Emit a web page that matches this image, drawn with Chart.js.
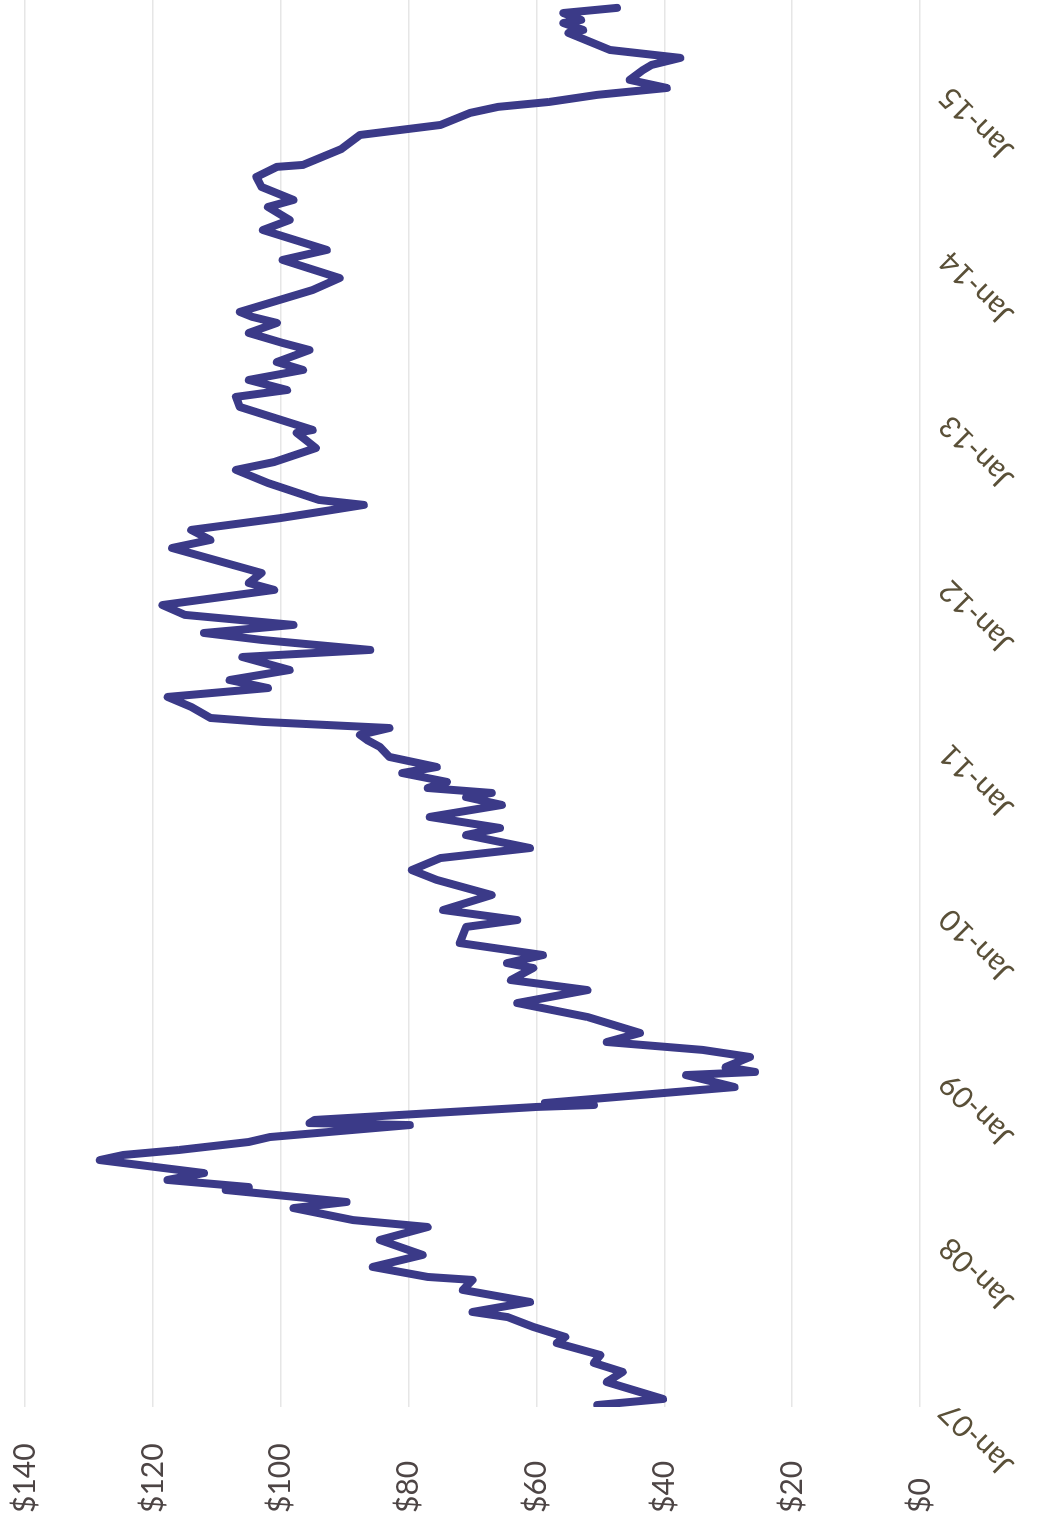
<!DOCTYPE html>
<html>
<head>
<meta charset="utf-8">
<script src="https://cdn.jsdelivr.net/npm/chart.js@4.4.0/dist/chart.umd.min.js"></script>
<style>
  html, body { margin: 0; padding: 0; background: #fff; overflow: hidden; }
  #page { width: 1049px; height: 1527px; position: relative; overflow: hidden; background: #fff; }
  /* the scanned chart is lying on its side: draw it flat, then turn it 90deg left */
  #wrap { position: absolute; left: 0; top: 0; width: 1527px; height: 1049px;
          transform-origin: 0 0; transform: translate(0, 1527px) rotate(-90deg); }
</style>
</head>
<body>
<div id="page"><div id="wrap"><canvas id="chart" width="1527" height="1049"></canvas></div></div>
<script>
// time as decimal years
const yearPos = [
  2007.012, 2007.049, 2007.152, 2007.213, 2007.268, 2007.316, 2007.389, 2007.426, 2007.487, 2007.547,
  2007.578, 2007.639, 2007.712, 2007.773, 2007.791, 2007.852, 2007.925, 2008.016, 2008.095, 2008.137,
  2008.210, 2008.247, 2008.320, 2008.338, 2008.381, 2008.423, 2008.484, 2008.502, 2008.533, 2008.563,
  2008.612, 2008.642, 2008.715, 2008.727, 2008.746, 2008.825, 2008.837, 2008.849, 2008.946, 2009.019,
  2009.038, 2009.068, 2009.129, 2009.172, 2009.220, 2009.275, 2009.372, 2009.457, 2009.536, 2009.597,
  2009.670, 2009.700, 2009.749, 2009.822, 2009.920, 2009.962, 2010.023, 2010.114, 2010.206, 2010.266,
  2010.339, 2010.400, 2010.479, 2010.522, 2010.589, 2010.662, 2010.710, 2010.735, 2010.765, 2010.802,
  2010.856, 2010.893, 2010.954, 2011.015, 2011.057, 2011.088, 2011.130, 2011.167, 2011.191, 2011.258,
  2011.319, 2011.373, 2011.422, 2011.483, 2011.562, 2011.605, 2011.665, 2011.708, 2011.757, 2011.818,
  2011.878, 2011.970, 2012.012, 2012.073, 2012.225, 2012.274, 2012.335, 2012.407, 2012.456, 2012.487,
  2012.517, 2012.620, 2012.700, 2012.748, 2012.833, 2012.925, 2012.943, 2013.083, 2013.144, 2013.186,
  2013.247, 2013.308, 2013.356, 2013.429, 2013.472, 2013.533, 2013.594, 2013.630, 2013.661, 2013.794,
  2013.867, 2013.977, 2014.038, 2014.159, 2014.220, 2014.299, 2014.342, 2014.421, 2014.482, 2014.543,
  2014.555, 2014.652, 2014.737, 2014.798, 2014.871, 2014.908, 2014.938, 2014.981, 2015.023, 2015.072,
  2015.133, 2015.163, 2015.206, 2015.254, 2015.358, 2015.376, 2015.418, 2015.437, 2015.479, 2015.510
];

// price in dollars
const price = [
  50.5, 40.2, 49.0, 46.5, 51.0, 50.0, 56.8, 55.5, 60.5, 64.5,
  70.0, 61.0, 71.5, 70.0, 77.0, 85.6, 77.8, 84.5, 77.0, 88.7,
  98.0, 89.7, 108.6, 105.0, 117.7, 112.0, 124.6, 128.3, 124.6, 116.0,
  105.0, 101.7, 79.8, 95.5, 94.7, 60.0, 51.0, 58.7, 29.0, 36.6,
  25.8, 30.4, 26.6, 34.0, 49.0, 43.8, 52.0, 63.0, 52.0, 64.0,
  60.5, 64.6, 59.0, 72.0, 71.0, 63.0, 74.6, 67.0, 75.6, 79.5,
  75.0, 61.0, 71.0, 65.7, 76.7, 65.4, 71.0, 67.0, 77.0, 74.0,
  81.0, 75.6, 83.0, 84.5, 86.5, 87.6, 83.0, 102.8, 111.0, 114.0,
  117.7, 102.0, 108.0, 98.6, 106.0, 86.0, 102.8, 112.0, 98.0, 115.0,
  118.5, 101.0, 105.0, 103.0, 117.0, 111.0, 114.0, 100.0, 92.0, 87.0,
  94.0, 102.0, 107.0, 101.0, 94.5, 97.5, 95.0, 106.4, 107.0, 99.0,
  105.0, 96.5, 100.6, 95.5, 99.7, 105.0, 100.6, 104.4, 106.4, 95.0,
  90.8, 99.7, 92.8, 102.8, 98.6, 102.0, 98.0, 103.0, 103.8, 100.6,
  96.5, 90.5, 87.6, 75.0, 70.4, 66.0, 58.0, 50.5, 39.6, 45.4,
  43.3, 42.0, 37.5, 48.5, 55.0, 52.7, 55.8, 53.0, 55.8, 47.4
];

const yearTicks = [2007, 2008, 2009, 2010, 2011, 2012, 2013, 2014, 2015];
const priceTicks = [0, 20, 40, 60, 80, 100, 120, 140];

const points = [];
for (let i = 0; i < yearPos.length; i++) {
  points.push({ x: yearPos[i], y: price[i] });
}

const ctx = document.getElementById('chart');
const chart = new Chart(ctx, {
  type: 'line',
  data: {
    datasets: [{
      data: points,
      borderColor: '#3b3a88',
      borderWidth: 8,
      borderJoinStyle: 'round',
      borderCapStyle: 'round',
      pointRadius: 0,
      tension: 0,
      fill: false
    }]
  },
  options: {
    responsive: false,
    animation: false,
    devicePixelRatio: 1,
    layout: { padding: { left: 14, top: 25, right: 0, bottom: 0 } },
    plugins: { legend: { display: false }, tooltip: { enabled: false } },
    scales: {
      x: {
        type: 'linear',
        min: 2007,
        max: 2015.558,
        afterFit: (s) => { s.height = 129; },
        afterBuildTicks: (s) => { s.ticks = yearTicks.map(v => ({ value: v })); },
        grid: { display: false, drawTicks: false },
        border: { display: false },
        ticks: {
          minRotation: 45,
          maxRotation: 45,
          padding: 12,
          color: '#5a5038',
          font: { family: 'Lato', size: 30 },
          callback: (v) => 'Jan-' + String(v).slice(2)
        }
      },
      y: {
        min: 0,
        max: 140,
        afterFit: (s) => { s.width = 106; },
        afterBuildTicks: (s) => { s.ticks = priceTicks.map(v => ({ value: v })); },
        grid: { color: '#e6e6e6', lineWidth: 1.5, drawTicks: false },
        border: { display: false },
        ticks: {
          crossAlign: 'far',
          color: '#4d4545',
          font: { family: 'Lato', size: 30 },
          callback: (v) => '$' + v
        }
      }
    }
  }
});
</script>
</body>
</html>
